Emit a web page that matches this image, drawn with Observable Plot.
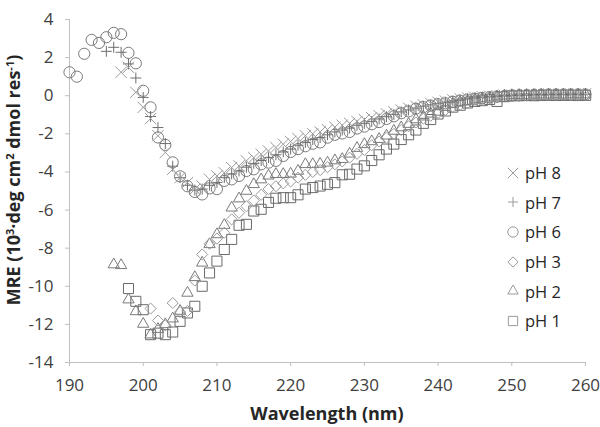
<!DOCTYPE html>
<html>
<head>
<meta charset="utf-8">
<script src="https://cdn.jsdelivr.net/npm/d3@7"></script>
<script src="https://cdn.jsdelivr.net/npm/@observablehq/plot@0.6"></script>
<style>
  html, body { margin: 0; padding: 0; background: #fff; }
  #wrap { position: relative; width: 600px; height: 427px; font-family: "Open Sans", sans-serif; }
  #ytitle { position: absolute; left: 13px; top: 180px; transform: translate(-50%, -50%) rotate(-90deg);
            white-space: nowrap; font-weight: bold; font-size: 18px; color: #262626; }
  #xtitle { position: absolute; left: 327px; top: 401px; transform: translateX(-50%);
            white-space: nowrap; font-weight: bold; font-size: 18px; color: #262626; }
  #ytitle sup { font-size: 11px; vertical-align: 6px; line-height: 0; }
  #legend { position: absolute; left: 506px; top: 158px; font-size: 16.5px; color: #262626; }
  #legend .row { height: 29.6px; display: flex; align-items: center; }
  #legend svg { margin-right: 5px; }
</style>
</head>
<body>
<div id="wrap">
  <div id="plot"></div>
  <div id="ytitle">MRE (10<sup>3</sup>·deg cm<sup>2</sup> dmol res<sup>-1</sup>)</div>
  <div id="xtitle">Wavelength (nm)</div>
  <div id="legend"></div>
</div>
<script>
// Wavelengths (nm)
const wavelength = [190,191,192,193,194,195,196,197,198,199,
  200,201,202,203,204,205,206,207,208,209,
  210,211,212,213,214,215,216,217,218,219,
  220,221,222,223,224,225,226,227,228,229,
  230,231,232,233,234,235,236,237,238,239,
  240,241,242,243,244,245,246,247,248,249,
  250,251,252,253,254,255,256,257,258,259,260];

// MRE values (10^3 deg cm^2 dmol res^-1), aligned with wavelength; null = no point
const pH8 = [null,null,null,null,null,null,null,1.23,1.49,0.18,
  -0.61,-1.2,-2.1,-2.98,-3.86,-4.3,-4.56,-4.91,-4.74,-4.39,
  -4.21,-4.04,-3.77,-3.68,-3.42,-3.25,-3.07,-2.9,-2.72,-2.54,
  -2.4,-2.25,-2.1,-2.0,-1.9,-1.78,-1.65,-1.55,-1.45,-1.35,
  -1.25,-1.15,-1.05,-0.95,-0.85,-0.75,-0.65,-0.55,-0.48,-0.4,
  -0.34,-0.28,-0.22,-0.17,-0.12,-0.08,-0.05,-0.02,0,0.02,
  0.03,0.05,0.06,0.07,0.08,0.09,0.08,0.1,0.09,0.1,0.1];
const pH7 = [null,null,null,null,null,2.33,2.54,2.28,1.67,0.93,
  -0.09,-1.09,-1.67,-2.51,-3.7,-4.3,-4.7,-4.95,-4.9,-4.7,
  -4.55,-4.3,-4.1,-3.95,-3.75,-3.55,-3.4,-3.25,-3.1,-2.95,
  -2.8,-2.6,-2.45,-2.3,-2.2,-2.05,-1.9,-1.8,-1.7,-1.55,
  -1.45,-1.35,-1.22,-1.1,-0.98,-0.85,-0.75,-0.65,-0.55,-0.48,
  -0.4,-0.34,-0.28,-0.22,-0.17,-0.12,-0.08,-0.05,-0.02,0,
  0.02,0.03,0.04,0.05,0.06,0.07,0.06,0.07,0.08,0.07,0.08];
const pH6 = [1.23,1.0,2.2,2.93,2.77,3.07,3.3,3.23,2.25,1.7,
  0.26,-0.61,-2.19,-2.58,-3.5,-4.23,-4.75,-5.05,-5.18,-4.86,
  -4.9,-4.47,-4.39,-4.21,-3.95,-3.86,-3.6,-3.51,-3.42,-3.16,
  -2.95,-2.8,-2.65,-2.52,-2.45,-2.2,-2.05,-1.98,-1.9,-1.72,
  -1.62,-1.5,-1.38,-1.22,-1.08,-0.92,-0.82,-0.68,-0.6,-0.52,
  -0.45,-0.4,-0.32,-0.26,-0.2,-0.16,-0.12,-0.08,-0.05,-0.02,
  0,0.02,0.03,0.04,0.05,0.06,0.05,0.06,0.05,0.05,0.06];
const pH3 = [null,null,null,null,null,null,null,null,null,null,
  null,-11.17,-11.8,-12.05,-10.88,-11.35,-11.3,-9.7,-8.33,-7.77,
  -7.5,-7.19,-6.49,-6.14,-5.8,-5.5,-5.2,-4.9,-4.75,-4.6,
  -4.5,-4.3,-4.15,-4.0,-3.9,-3.75,-3.6,-3.45,-3.25,-3.05,
  -2.85,-2.6,-2.4,-2.2,-2.0,-1.8,-1.6,-1.4,-1.2,-1.05,
  -0.9,-0.75,-0.6,-0.48,-0.38,-0.28,-0.2,-0.14,-0.08,-0.04,
  0,0.01,0.02,0.03,0.03,0.04,0.04,0.05,0.04,0.05,0.05];
const pH2 = [null,null,null,null,null,null,-8.86,-8.9,-10.7,-11.32,
  -11.98,-12.54,-12.25,-12.0,-11.7,-11.3,-10.35,-9.53,-8.77,-7.8,
  -7.28,-6.79,-5.88,-5.4,-5.0,-4.65,-4.4,-4.2,-4.12,-4.12,
  -4.1,-3.95,-3.6,-3.6,-3.58,-3.52,-3.4,-3.33,-3.05,-2.75,
  -2.55,-2.4,-2.28,-2.1,-1.85,-1.67,-1.49,-1.25,-1.1,-0.95,
  -0.85,-0.6,-0.45,-0.35,-0.28,-0.2,-0.15,-0.1,-0.05,0,
  0.02,0.03,0.03,0.04,0.05,0.05,0.06,0.05,0.06,0.06,0.06];
const pH1 = [null,null,null,null,null,null,null,null,-10.12,-10.79,
  -11.23,-12.54,-12.46,-12.54,-12.4,-11.84,-11.4,-11.05,-10.0,-9.3,
  -8.68,-8.07,-7.54,-6.8,-6.75,-6.05,-5.96,-5.6,-5.38,-5.35,
  -5.35,-5.2,-4.9,-4.82,-4.74,-4.65,-4.56,-4.15,-4.12,-3.85,
  -3.68,-3.4,-3.1,-2.8,-2.54,-2.3,-2.05,-1.8,-1.45,-1.25,
  -0.96,-0.8,-0.6,-0.5,-0.38,-0.3,-0.26,-0.2,-0.3,-0.05,
  0,0,0.01,0,0.01,0.02,0.01,0.02,0.02,0.01,0.02];

const seriesNames = ["pH 8", "pH 7", "pH 6", "pH 3", "pH 2", "pH 1"];
const seriesValues = [pH8, pH7, pH6, pH3, pH2, pH1];
const xTicks = [190, 200, 210, 220, 230, 240, 250, 260];
const yTicks = [-14, -12, -10, -8, -6, -4, -2, 0, 2, 4];

// styles per series
const styles = [
  {symbol: "times",     r: 5.2, stroke: "#9a9a9a"},
  {symbol: "plus",      r: 3.6, stroke: "#6e6e6e"},
  {symbol: "circle",    r: 5.6, stroke: "#7a7a7a"},
  {symbol: "diamond2",  r: 5.0, stroke: "#9a9a9a"},
  {symbol: "triangle2", r: 5.4, stroke: "#7a7a7a"},
  {symbol: "square2",   r: 6.4, stroke: "#6a6a6a"}
];

const xDomain = [xTicks[0], xTicks[xTicks.length - 1]];
const yDomain = [yTicks[0], yTicks[yTicks.length - 1]];

const dotMarks = seriesNames.map((name, k) => {
  const rows = wavelength.map((w, i) => ({w, v: seriesValues[k][i]})).filter(d => d.v !== null);
  const s = styles[k];
  return Plot.dot(rows, {x: "w", y: "v", symbol: s.symbol, r: s.r, stroke: s.stroke, fill: "none", strokeWidth: 1});
}).reverse();

const chart = Plot.plot({
  width: 600,
  height: 427,
  marginLeft: 69,
  marginRight: 15,
  marginTop: 19,
  marginBottom: 65,
  style: {fontFamily: "Open Sans, sans-serif", fontSize: "17px", color: "#404040", background: "#fff"},
  x: {domain: xDomain, inset: 0},
  y: {domain: yDomain, inset: 0},
  marks: [
    Plot.ruleY([yDomain[0]], {stroke: "#bfbfbf", strokeWidth: 1}),
    Plot.ruleX([xDomain[0]], {stroke: "#bfbfbf", strokeWidth: 1}),
    Plot.axisX({ticks: xTicks, tickSize: 4, tickPadding: 12, stroke: "#bfbfbf", fill: "#404040", label: null, tickFormat: d => String(d)}),
    Plot.axisY({ticks: yTicks, tickSize: 4, tickPadding: 12, stroke: "#bfbfbf", fill: "#404040", label: null, tickFormat: d => String(d)}),
    ...dotMarks
  ]
});
document.getElementById("plot").appendChild(chart);

// Legend
const legend = document.getElementById("legend");
const symbolTypes = {times: d3.symbolTimes, plus: d3.symbolPlus, circle: d3.symbolCircle,
  diamond2: d3.symbolDiamond2, triangle2: d3.symbolTriangle2, square2: d3.symbolSquare2};
seriesNames.forEach((name, k) => {
  const s = styles[k];
  const row = document.createElement("div");
  row.className = "row";
  const path = d3.symbol(symbolTypes[s.symbol], Math.PI * s.r * s.r * 0.85)();
  row.innerHTML = `<svg width="14" height="14" viewBox="-7 -7 14 14"><path d="${path}" fill="none" stroke="#9a9a9a" stroke-width="1"/></svg><span>${name}</span>`;
  legend.appendChild(row);
});
</script>
</body>
</html>
